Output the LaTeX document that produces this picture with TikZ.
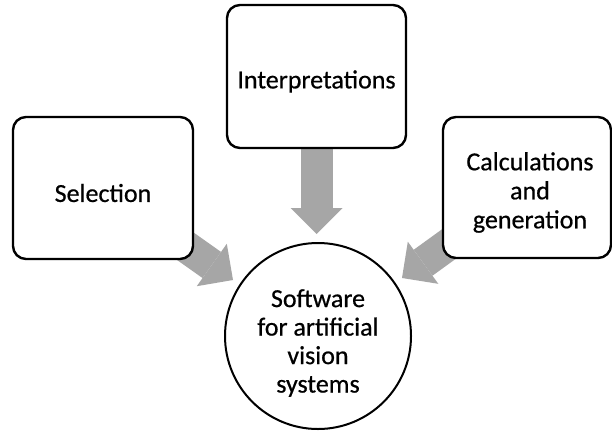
\documentclass[tikz,border=0pt]{standalone}
\usepackage{fontspec}
\setmainfont{Carlito}
\newfontfamily\labelfont[FakeBold=0.6]{Carlito}
\usetikzlibrary{arrows.meta,backgrounds}
\definecolor{arrowgray}{RGB}{166,166,166}
\begin{document}
\begin{tikzpicture}[x=1pt,y=-1pt,
  box/.style={draw=black, line width=2.4pt, rounded corners=13pt, fill=white,
    inner sep=0pt},
  hub/.style={circle, draw=black, line width=2pt, fill=white,
    minimum size=186pt, inner sep=0pt},
  boxtext/.style={align=center, inner sep=0pt, yshift=-5pt,
    font=\labelfont\fontsize{26}{29}\selectfont},
  hubtext/.style={align=center, inner sep=0pt, yshift=-7pt,
    font=\labelfont\fontsize{26}{28.5}\selectfont},
  feed/.style={line width=32pt, draw=arrowgray,
    -{Triangle[width=52pt,length=26pt,line width=0pt]}}]

\useasboundingbox (0,0) rectangle (612,431);

% input boxes and the central circle
\node[box, minimum width=179pt, minimum height=143pt,
  label={[boxtext]center:Interpretations}] (interp) at (316.5,76.5) {};
\node[box, minimum width=180pt, minimum height=142pt,
  label={[boxtext]center:Selection}] (sel) at (103,188) {};
\node[box, minimum width=168pt, minimum height=141pt,
  label={[boxtext, xshift=3pt]center:Calculations\\and\\generation}] (calc) at (527,187.5) {};
\node[hub, label={[hubtext]center:Software\\for artificial\\vision\\systems}] (soft) at (318,336) {};

% arrow tips, just outside the circle
\coordinate (tipI) at (316.5,234);
\coordinate (tipS) at (233,280);
\coordinate (tipC) at (402,278);

% block arrows run underneath the boxes
\begin{scope}[on background layer]
  \fill[white] (0,0) rectangle (612,431);
  \draw[feed] (interp.center) -- (tipI);
  \draw[feed] (sel.center) -- (tipS);
  \draw[feed] (calc.center) -- (tipC);
\end{scope}
\end{tikzpicture}
\end{document}
